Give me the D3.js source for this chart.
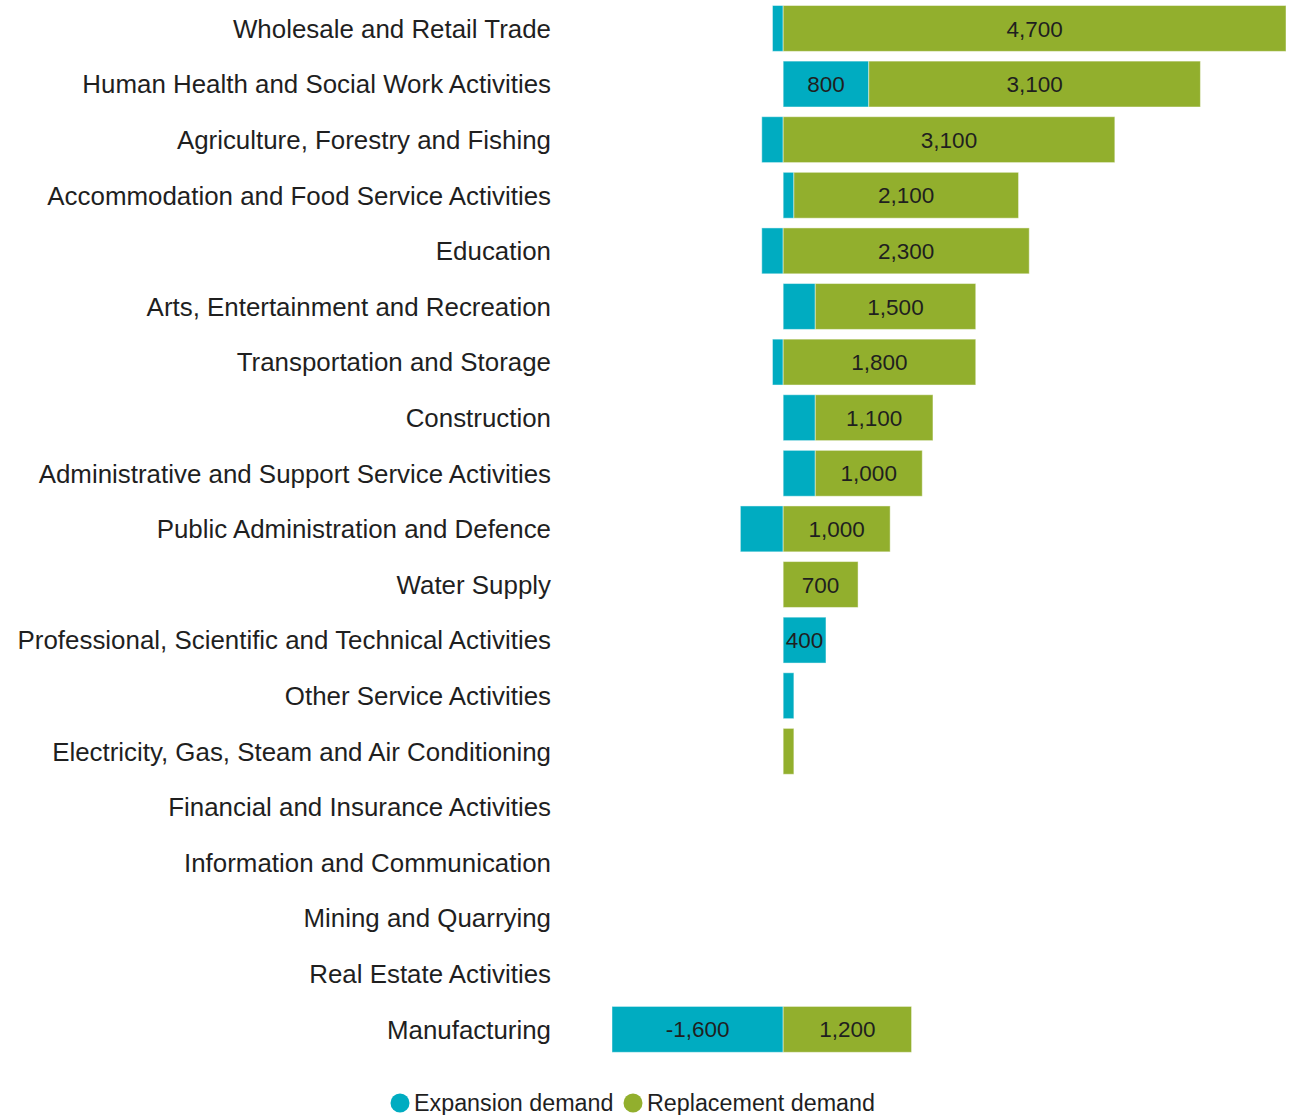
<!DOCTYPE html>
<html>
<head>
<meta charset="utf-8">
<script src="https://cdn.jsdelivr.net/npm/d3@7"></script>
<style>
  html, body { margin: 0; padding: 0; background: #fff; }
  svg { display: block; font-family: "Liberation Sans", Arial, sans-serif; }
</style>
</head>
<body>
<svg id="chart" width="1299" height="1115"></svg>
<script>
const categories = [
  "Wholesale and Retail Trade",
  "Human Health and Social Work Activities",
  "Agriculture, Forestry and Fishing",
  "Accommodation and Food Service Activities",
  "Education",
  "Arts, Entertainment and Recreation",
  "Transportation and Storage",
  "Construction",
  "Administrative and Support Service Activities",
  "Public Administration and Defence",
  "Water Supply",
  "Professional, Scientific and Technical Activities",
  "Other Service Activities",
  "Electricity, Gas, Steam and Air Conditioning",
  "Financial and Insurance Activities",
  "Information and Communication",
  "Mining and Quarrying",
  "Real Estate Activities",
  "Manufacturing"
];
const expansionDemand   = [-100, 800, -200, 100, -200, 300, -100, 300, 300, -400, 0, 400, 100, 0, 0, 0, 0, 0, -1600];
const replacementDemand = [4700, 3100, 3100, 2100, 2300, 1500, 1800, 1100, 1000, 1000, 700, 0, 0, 100, 0, 0, 0, 0, 1200];
const seriesNames = ["Expansion demand", "Replacement demand"];
const seriesColors = ["#00ACC1", "#92AF2D"];

const svg = d3.select("#chart");

const x = d3.scaleLinear().domain([-1600, 4700]).range([612, 1286]);
const y = d3.scaleBand().domain(categories)
  .range([5.5 - 0.09 * 55.62, 1052.3 + 0.09 * 55.62])
  .paddingInner(0.175).paddingOuter(0.09);

const fmt = d3.formatLocale({decimal: ".", thousands: ",", grouping: [3], currency: ["", ""], minus: "-"}).format(",");

const segs = [];
categories.forEach((c, i) => {
  const e = expansionDemand[i], r = replacementDemand[i];
  if (e !== 0) segs.push({cat: c, s: 0, x0: Math.min(0, e), x1: Math.max(0, e), v: e});
  if (r !== 0) {
    const base = e > 0 ? e : 0;
    segs.push({cat: c, s: 1, x0: base, x1: base + r, v: r});
  }
});

const g = svg.append("g");
g.selectAll("rect.bar").data(segs).join("rect")
  .attr("class", "bar")
  .attr("x", d => x(d.x0))
  .attr("width", d => x(d.x1) - x(d.x0))
  .attr("y", d => y(d.cat))
  .attr("height", y.bandwidth())
  .attr("fill", d => seriesColors[d.s])
  .attr("stroke", "rgba(255,255,255,0.45)")
  .attr("stroke-width", 1);

const labels = g.selectAll("text.val").data(segs).join("text")
  .attr("class", "val")
  .attr("x", d => (x(d.x0) + x(d.x1)) / 2)
  .attr("y", d => y(d.cat) + y.bandwidth() / 2)
  .attr("dy", "0.36em")
  .attr("text-anchor", "middle")
  .attr("font-size", 22.5)
  .attr("fill", "#1f1f1f")
  .text(d => fmt(d.v));
labels.each(function(d) {
  const w = x(d.x1) - x(d.x0);
  if (this.getComputedTextLength() > w) d3.select(this).remove();
});

svg.append("g").selectAll("text.cat").data(categories).join("text")
  .attr("class", "cat")
  .attr("x", 551)
  .attr("y", d => y(d) + y.bandwidth() / 2)
  .attr("dy", "0.36em")
  .attr("text-anchor", "end")
  .attr("font-size", 25.9)
  .attr("fill", "#1f1f1f")
  .text(d => d);

const legend = svg.append("g");
const legendX = [400, 633];
seriesNames.forEach((n, i) => {
  legend.append("circle").attr("cx", legendX[i]).attr("cy", 1103).attr("r", 9.5).attr("fill", seriesColors[i]);
  legend.append("text").attr("x", legendX[i] + 14).attr("y", 1103).attr("dy", "0.36em")
    .attr("font-size", 23.3).attr("fill", "#1f1f1f").text(n);
});
</script>
</body>
</html>
